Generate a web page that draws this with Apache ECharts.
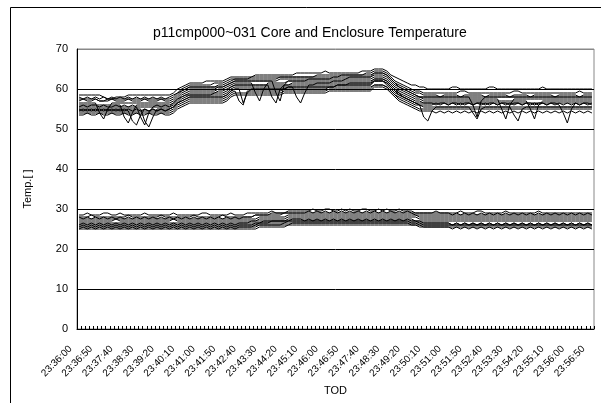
<!DOCTYPE html>
<html>
<head>
<meta charset="utf-8">
<script src="https://cdn.jsdelivr.net/npm/echarts@6/dist/echarts.min.js"></script>
<style>html,body{margin:0;padding:0;background:#fff;}#c{width:601px;height:403px;}</style>
</head>
<body>
<div id="c"></div>
<script>
const categories = [
"23:36:00","23:36:10","23:36:20","23:36:30","23:36:40","23:36:50",
"23:37:00","23:37:10","23:37:20","23:37:30","23:37:40","23:37:50",
"23:38:00","23:38:10","23:38:20","23:38:30","23:38:40","23:38:50",
"23:39:00","23:39:10","23:39:20","23:39:30","23:39:40","23:39:50",
"23:40:00","23:40:10","23:40:20","23:40:30","23:40:40","23:40:50",
"23:41:00","23:41:10","23:41:20","23:41:30","23:41:40","23:41:50",
"23:42:00","23:42:10","23:42:20","23:42:30","23:42:40","23:42:50",
"23:43:00","23:43:10","23:43:20","23:43:30","23:43:40","23:43:50",
"23:44:00","23:44:10","23:44:20","23:44:30","23:44:40","23:44:50",
"23:45:00","23:45:10","23:45:20","23:45:30","23:45:40","23:45:50",
"23:46:00","23:46:10","23:46:20","23:46:30","23:46:40","23:46:50",
"23:47:00","23:47:10","23:47:20","23:47:30","23:47:40","23:47:50",
"23:48:00","23:48:10","23:48:20","23:48:30","23:48:40","23:48:50",
"23:49:00","23:49:10","23:49:20","23:49:30","23:49:40","23:49:50",
"23:50:00","23:50:10","23:50:20","23:50:30","23:50:40","23:50:50",
"23:51:00","23:51:10","23:51:20","23:51:30","23:51:40","23:51:50",
"23:52:00","23:52:10","23:52:20","23:52:30","23:52:40","23:52:50",
"23:53:00","23:53:10","23:53:20","23:53:30","23:53:40","23:53:50",
"23:54:00","23:54:10","23:54:20","23:54:30","23:54:40","23:54:50",
"23:55:00","23:55:10","23:55:20","23:55:30","23:55:40","23:55:50",
"23:56:00","23:56:10","23:56:20","23:56:30","23:56:40","23:56:50"
];
const yTicks = [0,10,20,30,40,50,60,70];

// ---- Core temperatures ----
const core01 = [
58.5,58.5,58.5,58.5,58.5,58.5,58,57.5,57.5,58, 58,58,58.5,58.5,58.5,58.5,58.5,58.5,58.5,58.5, 58.5,58.5,58.5,
59,60,60.5,61,61.5,
61.5,61.5,61.5,62,62,62,62,62,
62.5,63,63,
63,63,63,63,63.5,63.5,63.5,63.5,63.5,63.5, 63.5,63.5,63.5,63.5,64,64,64,64,64,64, 64,64.5,64,64,64,64,64,64,64,64, 64.5,64.5,64.5,
65,65,65,
64.5,63.5,63,62.5,62,61.5,61,61,60.5,60.5,60,
60,60,60,60,60,60.5,60.5,60,60,60, 60,60,60,60,60.5,60.5,60,60,60,60, 60,60,60,60,60,60,60,60.5,60,60, 60,60,60,60,60,60,60,60,60,60
];
const core02 = [
57.5,57.5,57.5,57.5,57.5,57,57,57.5,57.5,57.5, 57.5,57.5,57.5,57.5,57.5,57.5,57.5,57.5,57.5,57.5, 57.5,57.5,57.5,
58,59,60,60.5,61,
61,61,61,61,61,61.5,61.5,61.5,
62,62.5,62.5,
62.5,62.5,62.5,63,63,63,63,63,63,63, 63,63,63,63,63,63,63,63,63,63.5, 63.5,63.5,63.5,63.5,63.5,63.5,63.5,63.5,63.5,63.5, 63.5,64,64,
64.5,64.5,64.5,
64,63,62,61.5,61,60.5,60,59.5,59.5,59,59,
59,59,59,59,59,59,59,59.5,59.5,59, 59,59,59,59,59,59,59,59,59,59, 59.5,59.5,59,59,59,59,59,59,59,59, 59,59,59,59,59,59,59.5,59,59,59
];
const core03 = [
57,57.5,57,57,57.5,57,57,57,57.5,57, 57,57,57.5,57,57,57,57.5,57,57,57, 57.5,57,57,
57.5,58.5,59.5,60,60.5,
60.5,60.5,60.5,60.5,60.5,60.5,61,61,
61.5,62,62.5,
62.5,62.5,62.5,62.5,62.5,62.5,62.5,62.5,62.5,62.5, 63,63,63,63,63,63,63,63,63,63, 63,63,63,63,63,63.5,63.5,63.5,63.5,63.5, 63.5,63.5,63.5,
64,64,64,
63.5,62.5,61.5,61,60.5,60,59.5,59,59,58.5,58.5,
58.5,58.5,58,58.5,58.5,58.5,58.5,58,58.5,58.5, 58.5,58.5,58.5,58,58.5,58.5,58.5,58.5,58.5,58, 58.5,58.5,58.5,58.5,58,58.5,58.5,58.5,58.5,58.5, 58,58.5,58.5,58.5,58.5,58.5,58,58.5,58.5,58.5
];
const core04 = [
56.5,56.5,56.5,56.5,56.5,54,52.5,55,56.5,56.5, 56.5,56.5,56.5,56.5,56.5,56.5,56.5,56.5,56.5,56.5, 56.5,56.5,56.5,
57,58,59,59.5,60,
60,60,60,60,60,60,60.5,60.5,
61,61.5,62,
62,62,62,62,62,62,62,62,62,62, 62.5,62.5,62.5,62.5,62.5,62.5,62.5,62.5,62.5,62.5, 62.5,62.5,62.5,63,63,63,63,63,63,63, 63,63,63,
63.5,63.5,63.5,
63,62,61,60.5,60,59.5,59,58.5,58,58,58,
58,58,58,58,58,58,58,58,58,58, 56,53,57,58,58,58,58,58,58,58, 58,58,58,58,58,58,58,58,58,58, 58,58,58,58,58,58,58,58,58,58
];
const core05 = [
56,56,56,56,56,56,56,56,56,56, 56,53,51.5,54,56,56,56,56,56,56, 56,56,56,
56.5,57.5,58.5,59,59.5,
59.5,59.5,59.5,59.5,59.5,59.5,60,60,
60.5,61,61.5,
61.5,61.5,61.5,61.5,59,57,60,61.5,61.5,61.5, 61.5,61.5,62,62,62,62,62,62,62,62, 62,62,62,62,62,62,62.5,62.5,62.5,62.5, 62.5,62.5,62.5,
63,63,63,
62.5,61.5,60.5,60,59.5,59,58.5,58,58,57.5,57.5,
57.5,57.5,57.5,57.5,57.5,57.5,57.5,57.5,57.5,57.5, 57.5,57.5,57.5,57.5,57.5,57.5,57.5,55,52.5,56, 57.5,57.5,57.5,57.5,57.5,57.5,57.5,57.5,57.5,57.5, 57.5,57.5,57.5,57.5,57.5,57.5,57.5,57.5,57.5,57.5
];
const core06 = [
55.5,56,55.5,56,56,55.5,56,55.5,55.5,56, 55.5,56,55.5,56,55.5,53,51,54,55.5,56, 55.5,56,55.5,
56.5,57.5,58,58.5,59,
59,59,59,59,59,59,59.5,59.5,
60,60.5,61,
61,61,61,61,61,61,61,61,58,56.5, 60,61,61,61.5,61.5,61.5,61.5,61.5,61.5,61.5, 61.5,61.5,61.5,62,62,62,62,62,62,62, 62,62,62,
62.5,62.5,62.5,
62,61,60,59.5,59,58.5,58,57.5,57.5,57,57,
57,57,57,57,57,57,57,57,57,57, 57,57,57,57,57,57,57,57,57,57, 57,57,57,57,55,52.5,56,57,57,57, 57,57,57,57,57,57,57,57,57,57
];
const core07 = [
55.5,55.5,55.5,55.5,55.5,55.5,55.5,55.5,55.5,55.5, 55.5,55.5,55.5,55.5,55.5,55.5,55.5,55.5,55.5,55.5, 55.5,55.5,55.5,
56,57,58,58.5,58.5,
58.5,58.5,58.5,58.5,58.5,59,59,59,
59.5,60.5,61,
61,61,61,61,61,61,61,61,61,61, 61,61,61,61,61,61,61,61,61,61.5, 61.5,61.5,61.5,61.5,61.5,61.5,61.5,61.5,61.5,61.5, 61.5,61.5,61.5,
62.5,62.5,62.5,
62,61,60,59,58.5,58,57.5,57,57,56.5,56.5,
56.5,56.5,56.5,56.5,56.5,56.5,56.5,56.5,56.5,56.5, 56.5,56.5,56.5,56.5,56.5,56.5,56.5,56.5,56.5,56.5, 56.5,56.5,56.5,56.5,56.5,56.5,56.5,56.5,56.5,56.5, 56.5,56.5,56.5,56.5,56.5,56.5,56.5,56.5,56.5,56.5
];
const core08 = [
55,55,55,55,55,55,55,55,55,55, 55,55,55,55,55,55,52,50.5,53,55, 55,55,55,
55.5,56.5,57.5,58,58.5,
58.5,58.5,58.5,58.5,58.5,58.5,58.5,58.5,
59,60,60.5,
60.5,60.5,60.5,60.5,60.5,60.5,60.5,60.5,60.5,60.5, 60.5,60.5,60.5,60.5,58,56.5,59,61,61,61, 61,61,61,61,61,61,61,61.5,61.5,61.5, 61.5,61.5,61.5,
62,62,62,
61.5,60.5,59.5,59,58,57.5,57,56.5,56.5,56.5,56.5,
56.5,56,56.5,56.5,56,56.5,56.5,56,56.5,56.5, 56,56.5,56.5,56,56.5,56.5,56,56.5,56.5,56, 56.5,56.5,56,56.5,56.5,56,56.5,56.5,56,56.5, 56.5,56,54,51.5,55,56.5,56,56.5,56.5,56
];
const core09 = [
55,54.5,55,54.5,55,54.5,55,54.5,55,54.5, 55,54.5,55,54.5,55,54.5,55,54.5,55,54.5, 55,54.5,55,
55.5,56.5,57,57.5,58,
58,58,58,58,58,58,58,58,
58.5,59.5,60,
60,60,60,60,60,60,60,60,60,60, 60,60,60.5,60.5,60.5,60.5,60.5,60.5,60.5,60.5, 60.5,60.5,60.5,60.5,61,61,61,61,61,61, 61,61,61,
62,62,62,
61.5,60.5,59.5,58.5,58,57.5,57,56.5,56,56,56,
56,56.5,56,56.5,56,56.5,56,56.5,56,56.5, 56,56.5,56,56.5,56,56.5,56,56.5,56,56.5, 56,56.5,56,56.5,56,56.5,56,56.5,56,56.5, 56,56.5,56,56.5,56,56.5,56,56.5,56,56.5
];
const core10 = [
54.5,54.5,54.5,54.5,54.5,54.5,54.5,54.5,54.5,54.5, 54.5,54.5,54.5,54.5,54.5,54.5,54.5,54.5,54.5,54.5, 54.5,54.5,54.5,
55,56,56.5,57,57.5,
57.5,57.5,57.5,57.5,57.5,57.5,57.5,57.5,
58,59,59.5,
57,56,59.5,59.5,59.5,59.5,59.5,59.5,59.5,59.5, 59.5,60,60,60,60,60,60,60,60,60, 60,60,60.5,60.5,60.5,60.5,60.5,60.5,60.5,60.5, 60.5,60.5,60.5,
61,61,61,
60.5,59.5,58.5,58,57.5,57,56.5,56,56,53,52,
54.5,55.5,55.5,55.5,55.5,55.5,55.5,55.5,55.5,55.5, 55.5,55.5,55.5,55.5,55.5,55.5,55.5,55.5,55.5,55.5, 55.5,55.5,55.5,55.5,55.5,55.5,55.5,55.5,55.5,55.5, 55.5,55.5,55.5,55.5,55.5,55.5,55.5,55.5,55.5,55.5
];
const core11 = [
54,54,54,54,54,54,54,54,54,54, 54,54,54,54,54,54,54,54,54,54, 54,54,54,
54.5,55.5,56,56.5,57,
57,57,57,57,57,57,57,57,
57.5,58.5,59,
59,59,59,59,59,59,59,59,59,59, 59,59.5,59.5,59.5,59.5,59.5,59.5,59.5,59.5,59.5, 59.5,59.5,60,60,60,60,60,60,60,60, 60,60,60,
61,61,61,
60.5,59.5,58.5,57.5,57,56.5,56,55.5,55,55,55,
55,55,55,55,55,55,55,55,55,55, 55,55,55,55,55,55,55,55,55,55, 55,55,55,55,55,55,55,55,55,55, 55,55,55,55,55,55,55,55,55,55
];
const core12 = [
53.5,53.5,54,53.5,53.5,54,53.5,53.5,54,53.5, 53.5,54,53.5,53.5,54,53.5,53.5,54,53.5,53.5, 54,53.5,53.5,
54,55,55.5,56,56.5,
56.5,56.5,56.5,56.5,56.5,56.5,56.5,56.5,
57,58,58.5,
58.5,58.5,58.5,58.5,58.5,58.5,58.5,58.5,58.5,58.5, 58.5,59,59,59,59,59,59,59,59,59, 59,59,59.5,59.5,59.5,59.5,59.5,59.5,59.5,59.5, 59.5,59.5,59.5,
60.5,60.5,60.5,
60,59,58,57,56.5,56,55.5,55,54.5,54.5,54.5,
54.5,54,54.5,54,54.5,54,54.5,54,54.5,54, 54.5,54,54.5,54,54.5,54,54.5,54,54.5,54, 54.5,54,54.5,54,54.5,54,54.5,54,54.5,54, 54.5,54,54.5,54,54.5,54,54.5,54,54.5,54
];
const core13 = [
58,57.5,58,57.5,58,57.5,58,57.5,58,57.5, 58,57.5,58,57.5,58,57.5,58,57.5,58,57.5, 58,57.5,58,
58.5,59,59.5,60,60.5,
60.5,60.5,60.5,60.5,60.5,60.5,60.5,60.5,
61,61.5,62,
62,62,62,62,62,62,62,62,62,59, 57,61,62,62,62,62,62,62.5,62.5,62.5, 62.5,62.5,62.5,62.5,62.5,62.5,62.5,63,63,63, 63,63,63,
64,64,64,
63.5,62.5,61.5,60.5,60,59.5,59,58.5,58,58,58,
58,58,58,58,58,58,58,58,58,58, 58,58,58,58,58,58,58,58,58,58, 58,58,58,58,58,58,58,58,58,58, 58,58,58,58,58,58,58,58,58,58
];
const core14 = [
54.5,55,54.5,55,54.5,55,54.5,55,54.5,55, 54.5,55,54.5,52,51,53.5,55,54.5,55,54.5, 55,54.5,55,
55.5,56.5,57,57.5,58,
58,58,58,58,58,58,58,58,
58.5,59.5,60,
60,56.5,59,60,60,60,60,60,60,60, 60,60,60.5,60.5,60.5,60.5,60.5,60.5,60.5,60.5, 60.5,60.5,60.5,60.5,61,61,61,61,61,61, 61,61,61,
62,62,62,
61,60,59,58.5,58,57.5,57,56.5,56,55.5,55.5,
55.5,55.5,55.5,55.5,55.5,55.5,55.5,55.5,55.5,55.5, 54,52.5,55,55.5,55.5,55.5,55.5,55.5,55.5,55.5, 53.5,52,55,55.5,55.5,55.5,55.5,55.5,55.5,55.5, 55.5,55.5,55.5,55.5,55.5,55.5,55.5,55.5,55.5,55.5
];

// ---- Enclosure temperatures ----
const enc01 = [
28.5,28.5,29,28.5,28.5,28.5,29,29,28.5,28.5, 29,28.5,28.5,28.5,28.5,28.5,29,28.5,28.5,28.5, 28.5,28.5,28.5,29,28.5,28.5,28.5,28.5,28.5,28.5, 29,29,28.5,28.5,28.5,28.5,28.5,29,28.5,28.5,
28.5,29,29,29,29,29,29,29.5,29,29, 29,29.5,29.5,29.5,29.5,
29.5,29.5,30,29.5,29.5,30,30,29.5,29.5,30, 29.5,30,29.5,29.5,30,30,29.5,29.5,30,29.5, 30,29.5,29.5,30,29.5,
29.5,29.5,29,29,29,29,29,29.5,29,29,
29,29,29,29.5,29,29,29,29.5,29.5,29, 29,29,29,29,29.5,29,29,29,29,29, 29,29,29.5,29,29,29,29,29,29,29, 29,29,29,29,29,29
];
const enc02 = [
28,28,28,28.5,28,28,28,28,28,28, 28,28,28.5,28,28,28,28,28,28,28, 28.5,28,28,28,28,28,28,28,28.5,28, 28,28,28,28,28,28.5,28,28,28,28,
28,28,28,28.5,28.5,28.5,28.5,28.5,28.5,28.5, 29,29,29,29,29,
29,29,29,29,29,29,29,29,29,29, 29,29,29,29,29,29,29,29,29,29, 29,29,29,29,29,
29,29,28.5,28.5,28.5,28.5,28.5,28.5,28.5,28.5,
28.5,28.5,28.5,28.5,28.5,28.5,28.5,28.5,28.5,28.5, 28.5,28.5,28.5,28.5,28.5,28.5,28.5,28.5,28.5,28.5, 28.5,28.5,28.5,28.5,28.5,28.5,28.5,28.5,28.5,28.5, 28.5,28.5,28.5,28.5,28.5,28.5
];
const enc03 = [
27.5,27.5,27.5,27.5,27.5,27.5,27.5,27.5,27.5,27.5, 27.5,27.5,27.5,27.5,27.5,27.5,27.5,27.5,27.5,27.5, 27.5,27.5,27.5,27.5,27.5,27.5,27.5,27.5,27.5,27.5, 27.5,27.5,27.5,27.5,27.5,27.5,27.5,27.5,27.5,27.5,
27.5,27.5,27.5,27.5,28,28,28,28,28,28, 28,28.5,28.5,28.5,28.5,
28.5,28.5,28.5,28.5,28.5,28.5,28.5,28.5,28.5,28.5, 28.5,28.5,28.5,28.5,28.5,28.5,28.5,28.5,28.5,28.5, 28.5,28.5,28.5,28.5,28.5,
28.5,28.5,28.5,28,28,28,28,28,28,28,
28,28,28,28,28,28,28,28,28,28, 28,28,28,28,28,28,28,28,28,28, 28,28,28,28,28,28,28,28,28,28, 28,28,28,28,28,28
];
const enc04 = [
27,27,27,27,27,27,27,27,27,27.5, 27,27,27,27,27,27,27,27,27,27, 27,27,27,27.5,27,27,27,27,27,27, 27,27,27,27,27,27,27,27,27,27,
27,27,27,27,27.5,27.5,27.5,27.5,27.5,27.5, 27.5,28,28,28,28,
28,28,28,28,28,28,28,28,28,28, 28,28,28,28,28,28,28,28,28,28, 28,28,28,28,28,
28,28,28,27.5,27.5,27.5,27.5,27.5,27.5,27.5,
27.5,27.5,27.5,27.5,27.5,27.5,27.5,27.5,27.5,27.5, 27.5,27.5,27.5,27.5,27.5,27.5,27.5,27.5,27.5,27.5, 27.5,27.5,27.5,27.5,27.5,27.5,27.5,27.5,27.5,27.5, 27.5,27.5,27.5,27.5,27.5,27.5
];
const enc05 = [
26.5,26.5,26.5,26.5,26.5,26.5,26.5,26.5,26.5,26.5, 26.5,26.5,26.5,26.5,26.5,26.5,26.5,26.5,26.5,26.5, 26.5,26.5,26.5,26.5,26.5,26.5,26.5,26.5,26.5,26.5, 26.5,26.5,26.5,26.5,26.5,26.5,26.5,26.5,26.5,26.5,
26.5,26.5,27,27,27,27,27,27,27,27, 27,27.5,27.5,27.5,27.5,
27.5,27.5,27.5,27.5,27.5,27.5,27.5,27.5,27.5,27.5, 27.5,27.5,27.5,27.5,27.5,27.5,27.5,27.5,27.5,27.5, 27.5,27.5,27.5,27.5,27.5,
27.5,27.5,27,27,27,27,27,27,27,27,
27,27,27,27,27,27,27,27,27,27, 27,27,27,27,27,27,27,27,27,27, 27,27,27,27,27,27,27,27,27,27, 27,27,27,27,27,27
];
const enc06 = [
26,26.5,26,26.5,26,26.5,26,26.5,26,26.5, 26,26.5,26,26.5,26,26.5,26,26.5,26,26.5, 26,26.5,26,26.5,26,26.5,26,26.5,26,26.5, 26,26.5,26,26.5,26,26.5,26,26.5,26,26.5,
26.5,26.5,26.5,26.5,26.5,27,27,27,27,27, 27,27,27,27,27,
27,27,27,27,27,27,27,27,27,27, 27,27,27,27,27,27,27,27,27,27, 27,27,27,27,27,
27,27,27,26.5,26.5,26.5,26.5,26.5,26.5,26.5,
26.5,26,26.5,26,26.5,26,26.5,26,26.5,26, 26.5,26,26.5,26,26.5,26,26.5,26,26.5,26, 26.5,26,26.5,26,26.5,26,26.5,26,26.5,26, 26.5,26,26.5,26,26.5,26
];
const enc07 = [
26,26,26,26,26,26,26,26,26,26, 26,26,26,26,26,26,26,26,26,26, 26,26,26,26,26,26,26,26,26,26, 26,26,26,26,26,26,26,26,26,26,
26,26,26,26,26.5,26.5,26.5,26.5,26.5,26.5, 26.5,27,27,27,27,
27,27,27,27,27,27,27,27,27,27, 27,27,27,27,27,27,27,27,27,27, 27,27,27,27,27,
27,26.5,26.5,26.5,26,26,26,26,26,26,
26,26,26,26,26,26,26,26,26,26, 26,26,26,26,26,26,26,26,26,26, 26,26,26,26,26,26,26,26,26,26, 26,26,26,26,26,26
];
const enc08 = [
25.5,25.5,25.5,25.5,25.5,25.5,25.5,25.5,25.5,25.5, 25.5,25.5,25.5,25.5,25.5,25.5,25.5,25.5,25.5,25.5, 25.5,25.5,25.5,25.5,25.5,25.5,25.5,25.5,25.5,25.5, 25.5,25.5,25.5,25.5,25.5,25.5,25.5,25.5,25.5,25.5,
25.5,25.5,25.5,26,26,26,26,26,26,26, 26.5,26.5,26.5,26.5,26.5,
26.5,26.5,26.5,26.5,26.5,26.5,26.5,26.5,26.5,26.5, 26.5,26.5,26.5,26.5,26.5,26.5,26.5,26.5,26.5,26.5, 26.5,26.5,26.5,26.5,26.5,
26.5,26.5,26.5,26,26,26,26,26,26,26,
26,26,26,26,26,26,26,26,26,26, 26,26,26,26,26,26,26,26,26,26, 26,26,26,26,26,26,26,26,26,26, 26,26,26,26,26,26
];
const enc09 = [
25,25.5,25,25.5,25,25.5,25,25.5,25,25.5, 25,25.5,25,25.5,25,25.5,25,25.5,25,25.5, 25,25.5,25,25.5,25,25.5,25,25.5,25,25.5, 25,25.5,25,25.5,25,25.5,25,25.5,25,25.5,
25.5,25.5,25.5,25.5,26,26,26,26,26,26, 26,26,26.5,26.5,26.5,
26.5,26.5,26.5,26.5,26.5,26.5,26.5,26.5,26.5,26.5, 26.5,26.5,26.5,26.5,26.5,26.5,26.5,26.5,26.5,26.5, 26.5,26.5,26.5,26.5,26.5,
26.5,26,26,26,25.5,25.5,25.5,25.5,25.5,25.5,
25.5,25,25.5,25,25.5,25,25.5,25,25.5,25, 25.5,25,25.5,25,25.5,25,25.5,25,25.5,25, 25.5,25,25.5,25,25.5,25,25.5,25,25.5,25, 25.5,25,25.5,25,25.5,25
];
const enc10 = [
25,25,25,25,25,25,25,25,25,25, 25,25,25,25,25,25,25,25,25,25, 25,25,25,25,25,25,25,25,25,25, 25,25,25,25,25,25,25,25,25,25,
25,25,25,25,25.5,25.5,25.5,25.5,25.5,25.5, 25.5,26,26,26,26,
26,26,26,26,26,26,26,26,26,26, 26,26,26,26,26,26,26,26,26,26, 26,26,26,26,26,
26,26,26,25.5,25.5,25.5,25.5,25.5,25.5,25.5,
25.5,25.5,25.5,25.5,25.5,25.5,25.5,25.5,25.5,25.5, 25.5,25.5,25.5,25.5,25.5,25.5,25.5,25.5,25.5,25.5, 25.5,25.5,25.5,25.5,25.5,25.5,25.5,25.5,25.5,25.5, 25.5,25.5,25.5,25.5,25.5,25.5
];
const enc11 = [
28,27.5,28,27.5,28,27.5,28,27.5,28,27.5, 28,27.5,28,27.5,28,27.5,28,27.5,28,27.5, 28,27.5,28,27.5,28,27.5,28,27.5,28,27.5, 28,27.5,28,27.5,28,27.5,28,27.5,28,27.5,
28,28,28,28.5,28.5,28.5,28.5,29,29,29, 29,29,29,29,29,
29,29.5,29,29.5,29,29.5,29,29.5,29,29.5, 29,29.5,29,29.5,29,29.5,29,29.5,29,29.5, 29,29.5,29,29.5,29,
29.5,29,29,29,29,29,29,29,29,29,
29,28.5,29,28.5,29,28.5,29,28.5,29,28.5, 29,28.5,29,28.5,29,28.5,29,28.5,29,28.5, 29,28.5,29,28.5,29,28.5,29,28.5,29,28.5, 29,28.5,29,28.5,29,28.5
];
const enc12 = [
25.5,26,25.5,26,25.5,26,25.5,26,25.5,26, 25.5,26,25.5,26,25.5,26,25.5,26,25.5,26, 25.5,26,25.5,26,25.5,26,25.5,26,25.5,26, 25.5,26,25.5,26,25.5,26,25.5,26,25.5,26,
26,26,26,26.5,26.5,26.5,26.5,27,27,27, 27,27,27.5,27.5,27.5,
27,27.5,27,27.5,27,27.5,27,27.5,27,27.5, 27,27.5,27,27.5,27,27.5,27,27.5,27,27.5, 27,27.5,27,27.5,27,
27.5,27,27,27,26.5,26.5,26.5,26.5,26.5,26.5,
26.5,26,26.5,26,26.5,26,26.5,26,26.5,26, 26.5,26,26.5,26,26.5,26,26.5,26,26.5,26, 26.5,26,26.5,26,26.5,26,26.5,26,26.5,26, 26.5,26,26.5,26,26.5,26
];

const coreList = [core01,core02,core03,core04,core05,core06,core07,core08,core09,core10,core11,core12,core13,core14];
const encList = [enc01,enc02,enc03,enc04,enc05,enc06,enc07,enc08,enc09,enc10,enc11,enc12];
const bad = [];
coreList.forEach((a,i)=>{ if(a.length!==categories.length) bad.push('core'+(i+1)+':'+a.length); });
encList.forEach((a,i)=>{ if(a.length!==categories.length) bad.push('enc'+(i+1)+':'+a.length); });
if (bad.length) throw new Error('length mismatch ' + bad.join(','));

const FONT = 'Liberation Sans, Arial, sans-serif';
const series = coreList.concat(encList).map((d,i)=>({
  type:'line', name:'s'+i, data:d, showSymbol:false, symbol:'none',
  lineStyle:{color:'#000', width:1}, silent:true, animation:false
}));

const chart = echarts.init(document.getElementById('c'), null, {renderer:'canvas'});
chart.setOption({
  animation:false,
  backgroundColor:'#fff',
  title:{
    text:'p11cmp000~031 Core and Enclosure Temperature',
    left:148, top:21,
    textStyle:{fontFamily:FONT, fontSize:14, fontWeight:'normal', color:'#000'}
  },
  graphic:[{type:'rect', shape:{x:10.5, y:7.5, width:640, height:440}, style:{fill:'none', stroke:'#000', lineWidth:1}, silent:true}],
  grid:{left:77, right:7, top:49, bottom:74, show:true, borderColor:'#888', borderWidth:1, backgroundColor:'transparent'},
  xAxis:{
    type:'category', data:categories, boundaryGap:true,
    name:'TOD', nameLocation:'middle', nameGap:53,
    nameTextStyle:{fontFamily:FONT, fontSize:11, color:'#000'},
    axisLine:{lineStyle:{color:'#000', width:1}},
    axisTick:{show:true, interval:0, inside:true, length:3, lineStyle:{color:'#000'}},
    axisLabel:{interval:4, rotate:45, fontFamily:FONT, fontSize:10, color:'#000', margin:10,
      formatter:function(v){ return '{t|' + v + '}'; },
      rich:{t:{fontFamily:FONT, fontSize:10, color:'#000', padding:[0,12,0,0]}}
    },
    splitLine:{show:false}
  },
  yAxis:{
    type:'value', min:yTicks[0], max:yTicks[yTicks.length-1], interval:10,
    name:'Temp.[ ]', nameLocation:'middle', nameGap:44,
    nameTextStyle:{fontFamily:FONT, fontSize:11, color:'#000'},
    axisLine:{show:true, lineStyle:{color:'#000', width:1}},
    axisTick:{show:false},
    axisLabel:{fontFamily:FONT, fontSize:11, color:'#000', margin:9},
    splitLine:{show:true, lineStyle:{color:['#000','#000','#000','#000','#000','#000','#000','#888'], width:1}}
  },
  series:series
});
</script>
</body>
</html>
